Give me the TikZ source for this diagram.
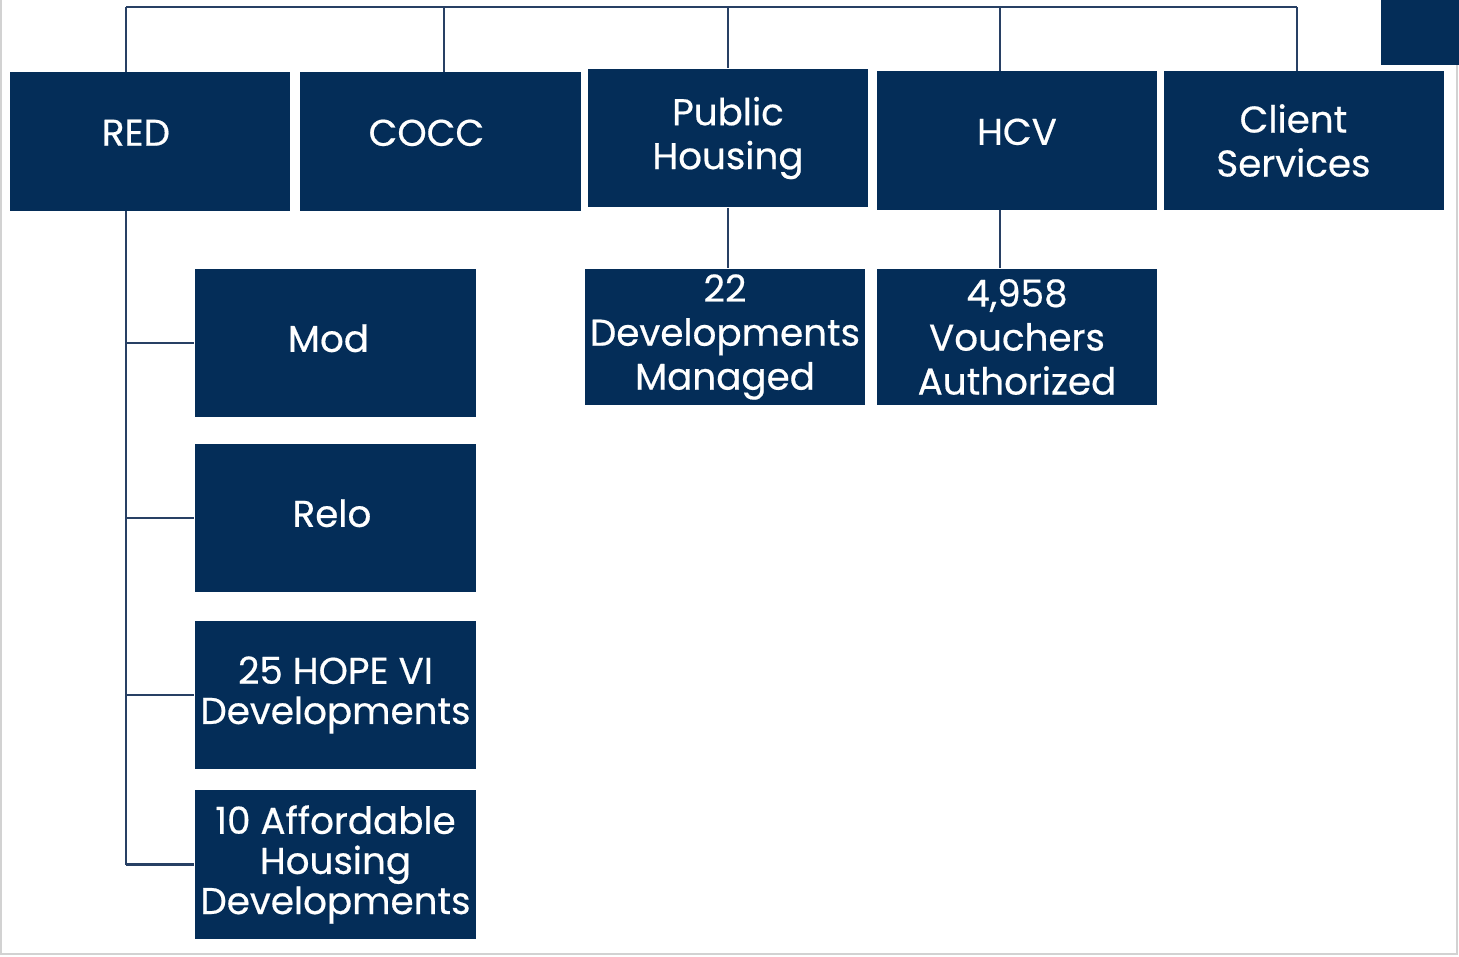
\documentclass[tikz,border=0pt]{standalone}
\usepackage{fontspec}
\setmainfont{Poppins}[FakeBold=0.5]
\definecolor{navy}{RGB}{4,45,88}
\definecolor{wire}{RGB}{40,64,100}
\tikzset{
  unit/.style={fill=navy, text=white, minimum width=2.8cm, minimum height=1.38cm,
    inner sep=1pt, align=center, font=\fontsize{10.6}{12.5}\selectfont},
  sub/.style={unit, minimum width=2.81cm, minimum height=1.48cm},
  tight/.style={font=\fontsize{10.6}{11.4}\selectfont},
  wire/.style={draw=wire, line width=0.6pt}
}
\begin{document}
\begin{tikzpicture}[x=0.01cm, y=-0.01cm]
		\useasboundingbox (0,0) rectangle (1459,956);
		\draw[gray!35, line width=0.8pt] (1,0) -- (1,954) -- (1457,954) -- (1457,0);
		\fill[navy] (1381,0) rectangle (1459,65);
		% top row
		\node[unit, text depth=5pt] (red) at (150,141.5) {RED\kern8pt};
		\node[unit, text depth=5pt] (cocc) at (440.5,141.5) {COCC\kern8pt};
		\node[unit] (ph) at (728,138) {Public\\Housing};
		\node[unit, text depth=5pt] (hcv) at (1017,140.5) {HCV};
		\node[unit] (cs) at (1304,140.5) {Client\kern6pt\\Services\kern6pt};
		% second row
		\node[unit, minimum height=1.36cm] (dev) at (725,337) {22\\Developments\\Managed};
		\node[unit, minimum height=1.36cm] (vouch) at (1017,337) {4,958\\Vouchers\\Authorized};
		\node[sub, text depth=2.8pt] (mod) at (335.5,343) {Mod\kern4pt};
		\node[sub, text depth=2.8pt] (relo) at (335.5,518) {Relo\kern2pt};
		\node[sub, tight] (hope) at (335.5,695) {25 HOPE VI\\Developments};
		\node[sub, tight] (aff) at (335.5,864.5) {10 Affordable\\Housing\\Developments};
		% bus
		\coordinate (B1) at (126,7); \coordinate (B2) at (444,7); \coordinate (B3) at (728,7);
		\coordinate (B4) at (1000,7); \coordinate (B5) at (1297,7);
		\draw[wire] (B1) -- (B5);
		\draw[wire] (B1) -- (B1 |- red.north);
		\draw[wire] (B2) -- (B2 |- cocc.north);
		\draw[wire] (B3) -- (B3 |- ph.north);
		\draw[wire] (B4) -- (B4 |- hcv.north);
		\draw[wire] (B5) -- (B5 |- cs.north);
		% branches
		\draw[wire] (B1 |- red.south) -- (B1 |- aff.west);
		\draw[wire] (B1 |- mod.west) -- (mod.west);
		\draw[wire] (B1 |- relo.west) -- (relo.west);
		\draw[wire] (B1 |- hope.west) -- (hope.west);
		\draw[wire] (B1 |- aff.west) -- (aff.west);
		\draw[wire] (B3 |- ph.south) -- (B3 |- dev.north);
		\draw[wire] (B4 |- hcv.south) -- (B4 |- vouch.north);
	\end{tikzpicture}
\end{document}
